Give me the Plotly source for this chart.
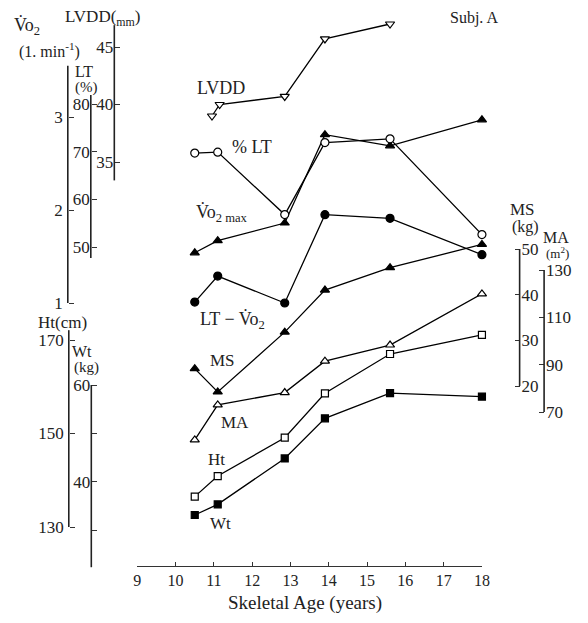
import plotly.graph_objects as go

# ---------------- data ----------------
ages = [10.5, 11.1, 12.85, 13.9, 15.6, 18.0]
lvdd_ages = [10.95, 11.15, 12.85, 13.9, 15.6]
lvdd_mm = [39.0, 40.0, 40.7, 45.7, 47.0]
lt_pct = [69.7, 69.9, 56.8, 71.9, 72.7, 52.6]
vo2max = [1.54, 1.67, 1.86, 2.81, 2.69, 2.97]
lt_vo2 = [1.01, 1.29, 1.00, 1.95, 1.91, 1.52]
ms_kg = [23.8, 18.7, 31.8, 41.0, 45.9, 51.0]
ma_m2 = [58.2, 73.0, 78.2, 91.5, 98.3, 119.9]
ht_cm = [136.5, 140.9, 149.1, 158.6, 167.0, 171.1]
wt_kg = [33.1, 35.3, 44.8, 53.1, 58.3, 57.6]
x_ticks = [9, 10, 11, 12, 13, 14, 15, 16, 17, 18]

# ---------------- layout helpers ----------------
# page body has an 8px margin: figure is 572x607 drawn at (8, 8)
W, H = 572, 607
OX, OY = 8, 8
def px(x):
    return (x - OX) / W
def py(y):
    return 1 - (y - OY) / H

FONT = "Liberation Serif"

def yrange(v1, p1, v2, p2):
    s = (v2 - v1) / (p2 - p1)
    return [v1 + (H + OY - p1) * s, v1 + (OY - p1) * s]

# name, (v1,p1),(v2,p2), xpos, side, tickvals, ticktext, extent, standoff
axes = [
    ("y",  (1, 303), (3, 117), 65, "left", [1, 2, 3], ["1", "2", "3"], (1, 3.55), 5),
    ("y2", (80, 104), (50, 247), 88.5, "left", [50, 60, 70, 80], ["50", "60", "70", "80"], (47.7, 81.9), 1),
    ("y3", (45, 47), (35, 162), 112.5, "left", [35, 40, 45], ["35", "40", "45"], (33.4, 46.9), 1),
    ("y4", (170, 340), (130, 527), 66, "left", [130, 150, 170], ["130", "150", "170"], (130, 172.1), 5),
    ("y5", (60, 385), (30, 530), 89, "left", [30, 40, 50, 60], ["", "40", "", "60"], (22.3, 60), 1),
    ("y6", (50, 249), (20, 386), 526.5, "right", [20, 30, 40, 50], ["20", "30", "40", "50"], (20, 50), 1),
    ("y7", (130, 270), (70, 412), 551.5, "right", [70, 90, 110, 130], ["70", "90", "110", "130"], (70, 130), 1),
]

fig = go.Figure()

def add(xs, ys, yax, symbol, fill):
    fig.add_trace(go.Scatter(
        x=xs, y=ys, xaxis="x", yaxis=yax, mode="lines+markers",
        line=dict(color="black", width=1.3),
        marker=dict(symbol=symbol, size=8 if "square" not in symbol else 7,
                    color=fill, line=dict(color="black", width=1.2)),
        cliponaxis=False, showlegend=False, hoverinfo="skip"))

add(lvdd_ages, lvdd_mm, "y3", "triangle-down", "white")
add(ages, lt_pct, "y2", "circle", "white")
add(ages, vo2max, "y", "triangle-up", "black")
add(ages, lt_vo2, "y", "circle", "black")
add(ages, ms_kg, "y6", "triangle-up", "black")
add(ages, ma_m2, "y7", "triangle-up", "white")
add(ages, ht_cm, "y4", "square", "white")
add(ages, wt_kg, "y5", "square", "black")

layout = dict(
    width=W, height=H, margin=dict(l=0, r=0, t=0, b=0),
    paper_bgcolor="white", plot_bgcolor="white",
    font=dict(family=FONT, size=16, color="#222"),
    xaxis=dict(domain=[px(136), px(488)], range=[9, 18], anchor="free",
               position=py(566), showline=True, linecolor="#333", linewidth=1.3,
               ticks="inside", ticklen=4, tickcolor="#333", tickvals=x_ticks,
               showgrid=False, zeroline=False, ticklabelstandoff=0,
               tickfont=dict(family=FONT, size=16, color="#222")),
)
shapes = []
for i, (name, a, b, xpos, side, tv, tt, ext, so) in enumerate(axes):
    key = "yaxis" if name == "y" else "yaxis" + name[1:]
    d = dict(range=yrange(a[0], a[1], b[0], b[1]), anchor="free", position=px(xpos),
             side=side, showline=False, showgrid=False, zeroline=False,
             ticks="inside", ticklen=5, tickcolor="#333", tickwidth=1.2,
             tickvals=tv, ticktext=tt, ticklabelstandoff=so,
             tickfont=dict(family=FONT, size=17, color="#222"))
    if name != "y":
        d["overlaying"] = "y"
    else:
        d["domain"] = [0, 1]
    layout[key] = d
    shapes.append(dict(type="line", xref="paper", yref=name, x0=px(xpos), x1=px(xpos),
                       y0=ext[0], y1=ext[1], line=dict(color="#222", width=1.6)))
layout["shapes"] = shapes

def ann(text, x, y, size=16, xanchor="center"):
    return dict(text=text, x=px(x), y=py(y), xref="paper", yref="paper",
                showarrow=False, xanchor=xanchor, yanchor="middle",
                font=dict(family=FONT, size=size, color="#222"))

annotations = [
    ann("V\u0307o<sub>2</sub>", 23, 26, 18),
    ann("(1. min<sup>-1</sup>)", 46, 50, 16),
    ann("LT", 82, 71, 16),
    ann("(%)", 84, 88, 15),
    ann("LVDD(<sub>mm</sub>)", 101, 18, 17),
    ann("Ht(cm)", 60, 322, 17),
    ann("Wt", 80, 351, 16),
    ann("(kg)", 84, 367, 15),
    ann("MS", 529, 209, 17),
    ann("(kg)", 533, 227, 16),
    ann("MA", 579, 237, 16, "right"),
    ann("(m<sup>2</sup>)", 579, 253, 13, "right"),
    ann("Subj. A", 480, 18, 16),
    ann("LVDD", 221, 88, 18),
    ann("% LT", 253, 147, 18),
    ann("V\u0307o<sub>2 max</sub>", 222, 213, 18),
    ann("LT \u2212 V\u0307o<sub>2</sub>", 233, 320, 18),
    ann("MS", 223, 360, 17),
    ann("MA", 236, 422, 17),
    ann("Ht", 217, 459, 17),
    ann("Wt", 221, 523, 17),
    ann("Skeletal Age (years)", 307, 603, 19),
]
layout["annotations"] = annotations
fig.update_layout(**layout)
fig.write_html("out.html")
